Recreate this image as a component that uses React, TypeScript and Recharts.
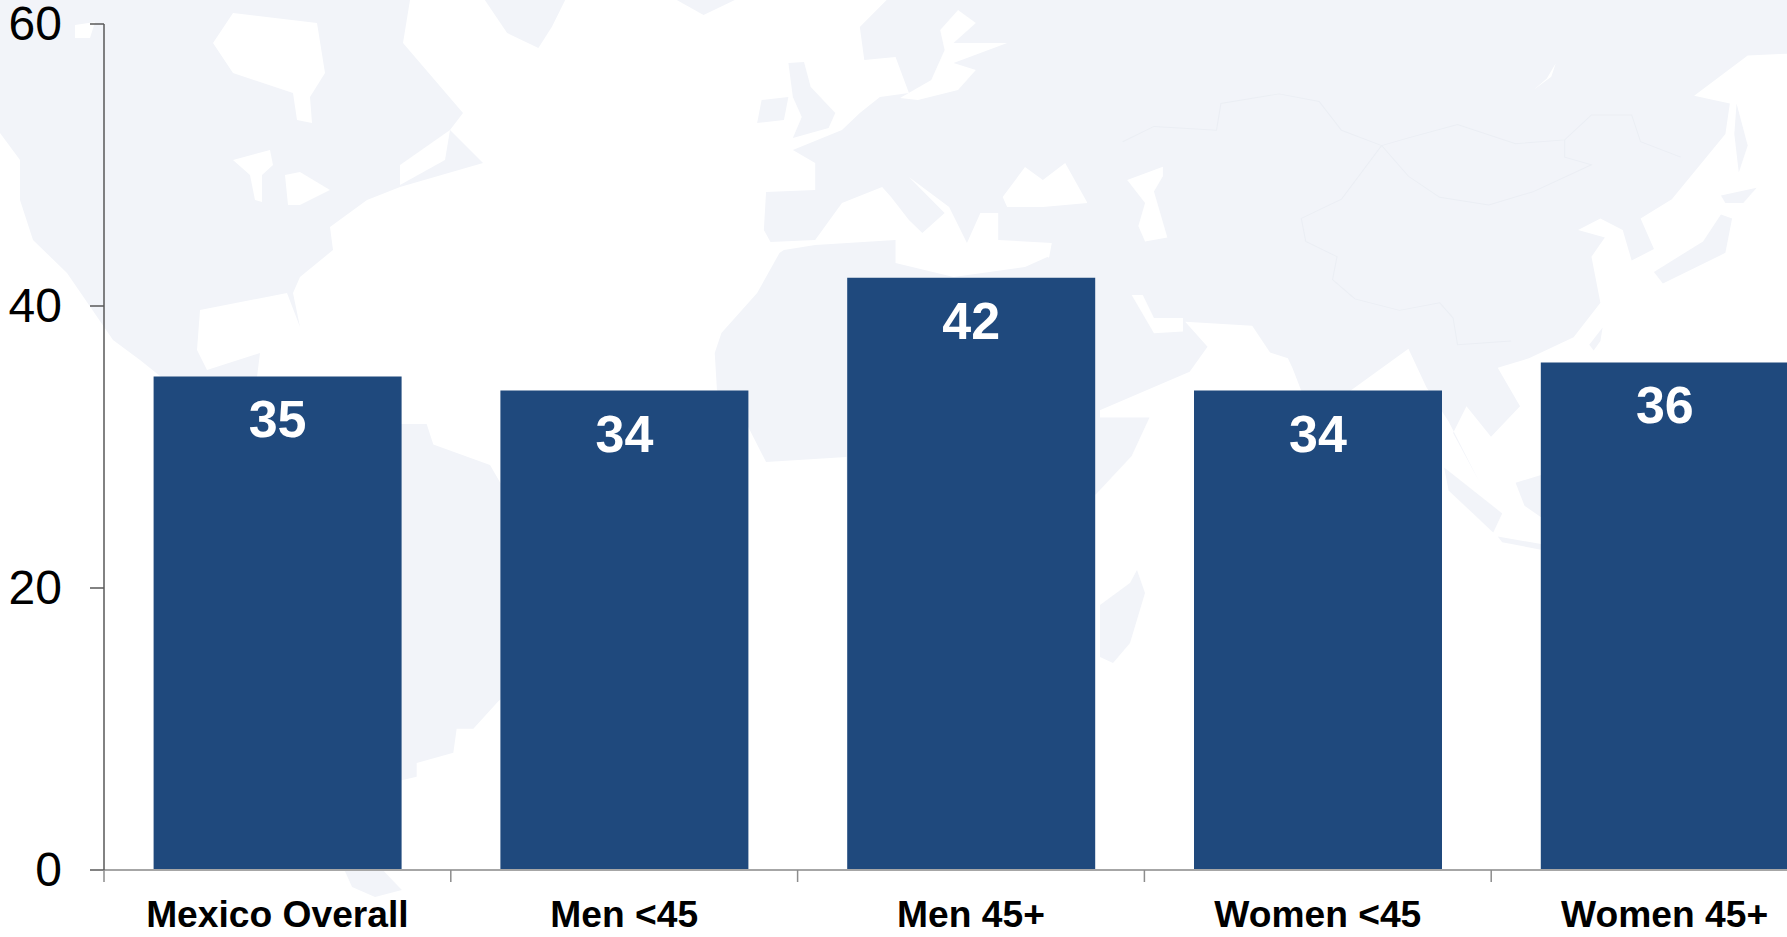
import { Bar, BarChart, LabelList, XAxis, YAxis } from "recharts";

const categories = ["Mexico Overall", "Men <45", "Men 45+", "Women <45", "Women 45+"];
const scores = [35, 34, 42, 34, 36];
const yTicks = [0, 20, 40, 60];

const chartData = categories.map((name, i) => ({ name, score: scores[i] }));

const LAND = "#f2f4f9";
const BORDER = "#ebeef4";
const FONT = '"Liberation Sans", Arial, sans-serif';

// Faint world map behind the chart, roughly traced. Each group uses its own
// local scale so the outlines could be read straight off the zoomed crops.
const WorldMap = () => (
  <svg width={1787} height={937} style={{ position: "absolute", left: 0, top: 0 }}>
    <g>
      <polygon
        fill={LAND}
        points="0,0 410,0 403,43 463,113 450,130 483,163 400,187 367,200 330,227 333,250 300,277 293,293 300,327 287,293 200,310 197,350 207,370 260,353 257,377 300,380 190,400 140,360 113,340 67,273 33,240 20,200 20,160 0,133"
      />
      <polygon fill="#fff" points="213,43 233,13 317,23 325,73 310,97 312,123 297,120 293,93 233,73" />
      <polygon fill="#fff" points="233,160 270,150 273,165 262,175 262,202 255,200 250,175" />
      <polygon fill="#fff" points="285,175 300,172 330,190 300,205 288,205" />
      <polygon fill="#fff" points="75,25 95,22 90,38 75,38" />
      <polygon fill="#fff" points="400,165 450,130 445,160 400,185" />
    </g>
    <g transform={`translate(400,0) scale(${1 / 2.24},1)`}>
      <polygon fill={LAND} points="190,0 240,33 310,48 340,27 370,0" />
      <polygon fill={LAND} points="620,0 680,15 750,0" />
      <polygon fill={LAND} points="870,63 905,62 920,87 975,113 960,128 880,138 900,117 880,97" />
      <polygon fill={LAND} points="810,100 870,97 860,120 800,123" />
      <polygon
        fill={LAND}
        points="1090,0 1030,27 1040,60 1110,57 1140,93 1075,97 1030,113 990,130 880,150 930,163 930,190 820,192 815,230 830,242 930,240 990,203 1080,187 1100,197 1140,220 1170,233 1220,213 1140,177 1230,207 1270,243 1300,213 1340,213 1340,240 1460,243 1450,267 1568,277 1568,0"
      />
      <polygon
        fill="#fff"
        points="1250,10 1210,30 1220,50 1190,80 1120,98 1160,100 1250,90 1290,70 1240,63 1360,43 1240,43 1290,23"
      />
      <polygon fill="#fff" points="1350,197 1400,167 1440,180 1490,163 1540,203 1440,207 1360,207" />
      <polygon
        fill={LAND}
        points="860,250 930,245 1110,240 1110,263 1240,277 1400,267 1450,257 1568,277 1568,480 1000,480 1000,457 820,462 780,427 710,390 705,353 720,333 800,293 850,253"
      />
    </g>
    <g transform={`translate(1087,0) scale(${1 / 2.24},${1 / 2.61})`}>
      <polygon
        fill={LAND}
        points="0,0 0,1075 30,1070 230,970 270,905 220,840 370,850 410,920 450,935 460,960 490,1050 520,1200 590,1020 720,910 760,1010 810,1100 880,1260 820,1130 850,1060 905,1140 970,1060 920,960 990,935 1090,880 1150,790 1130,670 1160,620 1100,600 1150,570 1200,600 1220,680 1270,650 1240,570 1310,520 1430,350 1440,270 1360,250 1480,145 1568,140 1568,0"
      />
      <polygon fill="#fff" points="90,470 170,435 170,460 150,500 180,620 130,630 115,590 130,530" />
      <polygon fill="#fff" points="100,770 125,770 150,830 215,830 215,865 150,870" />
      <polygon fill="#fff" points="1050,165 1040,200 1000,235 1030,205" />
      <polygon fill={LAND} points="0,1090 140,1090 100,1190 20,1290 0,1300" />
      <polygon fill={LAND} points="1270,710 1380,630 1420,560 1445,570 1430,660 1290,740" />
      <polygon fill={LAND} points="1420,510 1500,490 1470,530 1430,530" />
      <polygon fill={LAND} points="1455,270 1480,380 1460,450 1450,350" />
      <polygon fill={LAND} points="1125,900 1155,855 1150,890 1135,915" />
      <polygon fill={LAND} points="800,1220 930,1340 910,1390 810,1280" />
      <polygon fill={LAND} points="920,1400 1017,1420 1017,1435 930,1415" />
      <polygon fill={LAND} points="960,1260 1017,1240 1017,1350 980,1320" />
      <polyline
        fill="none"
        stroke={BORDER}
        strokeWidth={2.4}
        points="80,370 150,330 290,340 300,270 430,245 520,265 570,340 660,380 720,360 830,325 960,375 1070,365 1130,300 1220,300 1240,370 1330,410"
      />
      <polyline
        fill="none"
        stroke={BORDER}
        strokeWidth={2.4}
        points="660,380 720,460 790,515 900,535 1000,500 1130,430 1070,410 1070,365"
      />
      <polyline
        fill="none"
        stroke={BORDER}
        strokeWidth={2.4}
        points="660,380 570,520 480,570 490,630 560,670 550,730 600,780 700,810 790,790 820,830 830,900 950,890"
      />
    </g>
    <g transform={`translate(380,400) scale(${1 / 3},${1 / 2.92})`}>
      <polygon
        fill={LAND}
        points="-60,70 140,70 160,130 330,190 360,240 420,300 420,830 355,880 280,960 230,960 220,1030 110,1060 110,1100 65,1110 -60,1110"
      />
    </g>
    <g transform="translate(1080,430)">
      <polygon fill={LAND} points="20,175 50,153 57,140 65,163 50,213 33,233 20,227" />
    </g>
    <g transform={`translate(0,780) scale(${1 / 2.613},1)`}>
      <polygon fill={LAND} points="900,90 1000,90 1050,110 980,117 920,107" />
    </g>
  </svg>
);

// Category labels sit under the bars, tick marks on the band edges.
const CategoryTick = ({ x, y, payload }: any) => (
  <g>
    <line
      x1={x - payload.offset}
      x2={x - payload.offset}
      y1={y - 8}
      y2={y + 4}
      stroke="#8c8c8c"
      strokeWidth={1.5}
    />
    <text
      x={x}
      y={927}
      textAnchor="middle"
      fontFamily={FONT}
      fontWeight="bold"
      fontSize={37.2}
      fill="#000"
    >
      {payload.value}
    </text>
  </g>
);

const ValueTick = ({ x, y, payload }: any) => (
  <text x={x} y={y + 16} textAnchor="end" fontFamily={FONT} fontSize={48} fill="#000">
    {payload.value}
  </text>
);

export default function App() {
  return (
    <div
      style={{
        position: "absolute",
        left: 0,
        top: 0,
        width: 1787,
        height: 937,
        overflow: "hidden",
        background: "#fff",
      }}
    >
      <WorldMap />
      <div style={{ position: "absolute", left: 0, top: 0 }}>
        <BarChart
          width={1860}
          height={937}
          data={chartData}
          margin={{ left: 0, right: 22, top: 24, bottom: 0 }}
          barCategoryGap={49.6}
        >
          <XAxis
            dataKey="name"
            height={67}
            tickLine={false}
            axisLine={{ stroke: "#a6a6a6", strokeWidth: 2 }}
            tick={<CategoryTick />}
            interval={0}
          />
          <YAxis
            width={104}
            domain={[0, 60]}
            ticks={yTicks}
            tickSize={14}
            tickMargin={28}
            axisLine={{ stroke: "#595959", strokeWidth: 1.5 }}
            tickLine={{ stroke: "#595959", strokeWidth: 1.5 }}
            tick={<ValueTick />}
          />
          <Bar dataKey="score" fill="#1f497d" isAnimationActive={false}>
            <LabelList
              dataKey="score"
              position="insideTop"
              offset={24}
              fill="#fff"
              fontFamily={FONT}
              fontWeight="bold"
              fontSize={52}
            />
          </Bar>
        </BarChart>
      </div>
    </div>
  );
}
